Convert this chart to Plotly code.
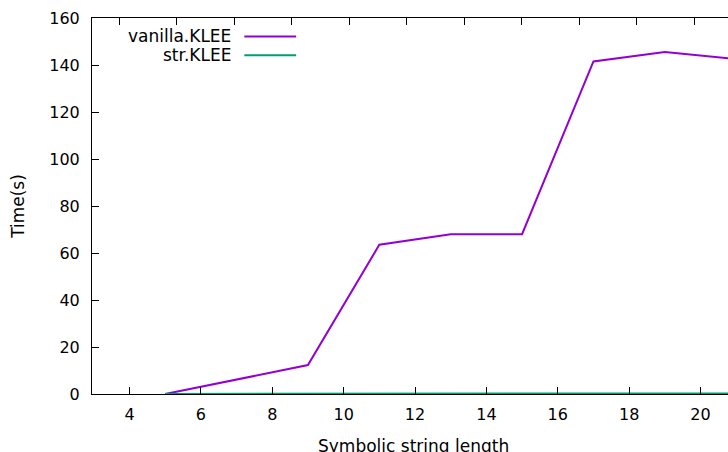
import plotly.graph_objects as go

# Data
lengths = [5, 7, 9, 11, 13, 15, 17, 19, 21]
vanilla_klee = [0.0, 6.1, 12.3, 63.5, 68.0, 68.0, 141.5, 145.5, 142.5]
str_klee = [0.05, 0.06, 0.08, 0.1, 0.12, 0.14, 0.17, 0.2, 0.25]
series_names = ["vanilla.KLEE", "str.KLEE"]
series_colors = ["#9400D3", "#009E73"]
x_ticks = [4, 6, 8, 10, 12, 14, 16, 18, 20]
y_ticks = [0, 20, 40, 60, 80, 100, 120, 140, 160]
x_title = "Symbolic string length"
y_title = "Time(s)"

FONT = "DejaVu Sans"

fig = go.Figure()
for name, vals, col in zip(series_names, [vanilla_klee, str_klee], series_colors):
    fig.add_trace(go.Scatter(x=lengths, y=vals, mode="lines", name=name,
                             line=dict(color=col, width=2), showlegend=False))

# invisible trace for the top mirror axis
fig.add_trace(go.Scatter(x=[0], y=[0], xaxis="x2", mode="markers",
                         marker=dict(opacity=0), showlegend=False, hoverinfo="skip"))

# gnuplot-style legend: text right-aligned, sample line to the right
for i, (name, col) in enumerate(zip(series_names, series_colors)):
    yp = 0.951 - i * 0.05
    fig.add_annotation(x=0.2216, y=yp, xref="paper", yref="paper", text=name,
                       showarrow=False, xanchor="right", yanchor="middle",
                       font=dict(family=FONT, size=17, color="black"))
    fig.add_shape(type="line", xref="paper", yref="paper",
                  x0=0.2395, x1=0.321, y0=yp, y1=yp,
                  line=dict(color=col, width=2))

# x axis title (extends past the bottom edge, as in the reference)
fig.add_annotation(x=0.505, y=-0.138, xref="paper", yref="paper", text=x_title,
                   showarrow=False, xanchor="center", yanchor="middle",
                   font=dict(family=FONT, size=17, color="black"))

fig.update_layout(
    width=728, height=452,
    margin=dict(l=92, r=0, t=18, b=58),
    paper_bgcolor="white", plot_bgcolor="white",
    font=dict(family=FONT, size=16, color="black"),
    xaxis=dict(range=[2.95, 20.77], tickvals=x_ticks, ticks="inside", ticklen=7,
               tickcolor="black", showline=True, linecolor="black", linewidth=1,
               showgrid=False, zeroline=False, ticklabelstandoff=6,
               automargin=False, tickfont=dict(family=FONT, size=16)),
    xaxis2=dict(overlaying="x", side="top", range=[0, 11.06], tick0=0.47, dtick=1,
                ticks="inside", ticklen=7, tickcolor="black", showticklabels=False,
                showline=True, linecolor="black", linewidth=1, showgrid=False,
                zeroline=False, automargin=False),
    yaxis=dict(range=[0, 160], tickvals=y_ticks, ticks="inside", ticklen=7,
               tickcolor="black", showline=True, linecolor="black", linewidth=1,
               showgrid=False, zeroline=False, ticklabelstandoff=8,
               automargin=False, tickfont=dict(family=FONT, size=16),
               title=dict(text=y_title, standoff=20,
                          font=dict(family=FONT, size=17))),
)

fig.write_html("out.html", config={"displayModeBar": False},
               post_script="document.body.style.margin='0';")
